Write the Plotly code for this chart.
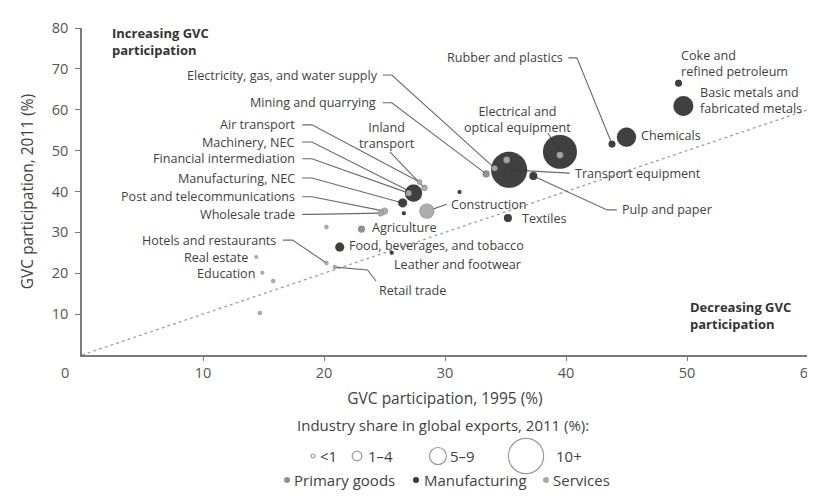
import plotly.graph_objects as go

# ---------------- data ----------------
industries = [
    "Coke and refined petroleum", "Basic metals and fabricated metals", "Chemicals",
    "Rubber and plastics", "Electrical and optical equipment", "Transport equipment",
    "Pulp and paper", "Electricity, gas, and water supply", "Mining and quarrying",
    "Water transport", "Renting of machinery", "Machinery, NEC", "Inland transport",
    "Air transport", "Financial intermediation", "Manufacturing, NEC", "Wood products",
    "Post and telecommunications", "Wholesale trade", "Construction", "Other nonmetallic minerals",
    "Textiles", "Agriculture", "Food, beverages, and tobacco", "Leather and footwear",
    "Other supporting transport", "Hotels and restaurants", "Retail trade", "Real estate",
    "Education", "Health", "Public administration",
]
gvc_1995 = [49.3, 49.7, 45.0, 43.8, 39.5, 35.3, 37.3, 34.1, 33.4, 35.1, 39.5, 27.4, 28.3,
            27.9, 27.0, 26.5, 26.6, 25.0, 24.7, 28.5, 31.2, 35.2, 23.1, 21.3, 25.6, 20.2,
            20.2, 20.9, 14.4, 14.9, 15.8, 14.7]
gvc_2011 = [66.5, 60.9, 53.3, 51.6, 49.7, 45.3, 43.8, 45.7, 44.3, 47.7, 48.9, 39.6, 40.9,
            42.3, 39.6, 37.2, 34.7, 35.2, 34.7, 35.2, 39.9, 33.5, 30.8, 26.4, 25.0, 31.3,
            22.5, 21.5, 24.0, 20.1, 18.1, 10.3]
export_share = [1.5, 6.5, 6.2, 1.5, 11.9, 12.7, 1.9, 1.2, 1.5, 1.5, 1.5, 5.4, 1.2,
                0.8, 1.2, 2.3, 0.4, 1.5, 1.2, 4.6, 0.4, 1.9, 1.5, 2.3, 0.4, 0.4,
                0.4, 0.4, 0.2, 0.2, 0.4, 0.4]
group = ["Manufacturing", "Manufacturing", "Manufacturing", "Manufacturing", "Manufacturing",
         "Manufacturing", "Manufacturing", "Services", "Primary goods", "Services", "Services",
         "Manufacturing", "Services", "Services", "Services", "Manufacturing", "Manufacturing",
         "Services", "Services", "Services", "Manufacturing", "Manufacturing", "Primary goods",
         "Manufacturing", "Manufacturing", "Services", "Services", "Services", "Services",
         "Services", "Services", "Services"]

groups = ["Primary goods", "Manufacturing", "Services"]
size_classes = ["<1", "1–4", "5–9", "10+"]
size_class_share = [0.4, 2.6, 5.4, 12.4]

# label layout: industry -> (text, label x, label y, xanchor, leader waypoints from label side)
label_layout = [
    ("Electricity, gas, and water supply", "Electricity, gas, and water supply", 24.6, 68.5, "right", [(24.85, 68.5), (25.6, 68.5)]),
    ("Mining and quarrying", "Mining and quarrying", 24.5, 61.7, "right", [(24.85, 61.7), (25.6, 61.7)]),
    ("Air transport", "Air transport", 17.8, 56.3, "right", [(18.2, 56.3), (19.0, 56.3)]),
    ("Machinery, NEC", "Machinery, NEC", 17.8, 52.1, "right", [(18.2, 52.1), (19.0, 52.1)]),
    ("Financial intermediation", "Financial intermediation", 17.8, 48.0, "right", [(18.2, 48.0), (19.0, 48.0)]),
    ("Manufacturing, NEC", "Manufacturing, NEC", 17.8, 43.3, "right", [(18.2, 43.3), (19.0, 43.3)]),
    ("Post and telecommunications", "Post and telecommunications", 17.8, 38.7, "right", [(18.2, 38.7), (19.0, 38.7)]),
    ("Wholesale trade", "Wholesale trade", 17.8, 34.4, "right", [(18.2, 34.4), (19.0, 34.4)]),
    ("Inland transport", "Inland<br>transport", 25.2, 53.7, "center", [(25.45, 49.7)]),
    ("Agriculture", "Agriculture", 23.8, 31.3, "left", []),
    ("Food, beverages, and tobacco", "Food, beverages, and tobacco", 21.9, 26.9, "left", []),
    ("Leather and footwear", "Leather and footwear", 25.6, 22.1, "left", []),
    ("Construction", "Construction", 30.3, 36.9, "left", [(30.15, 36.9)]),
    ("Textiles", "Textiles", 36.2, 33.5, "left", []),
    ("Hotels and restaurants", "Hotels and restaurants", 16.2, 28.1, "right", [(16.6, 28.1), (17.4, 28.1)]),
    ("Real estate", "Real estate", 13.9, 23.9, "right", []),
    ("Education", "Education", 14.5, 19.9, "right", []),
    ("Retail trade", "Retail trade", 24.4, 15.9, "left", [(24.3, 18.1), (23.6, 20.8)]),
    ("Rubber and plastics", "Rubber and plastics", 39.9, 72.7, "right", [(40.2, 72.7), (40.9, 72.7)]),
    ("Electrical and optical equipment", "Electrical and<br>optical equipment", 35.95, 57.7, "center", [(38.5, 54.3)]),
    ("Transport equipment", "Transport equipment", 40.6, 44.5, "left", [(40.3, 44.5)]),
    ("Pulp and paper", "Pulp and paper", 44.5, 35.5, "left", [(44.2, 35.5), (43.4, 35.5)]),
    ("Chemicals", "Chemicals", 46.0, 53.6, "left", []),
    ("Coke and refined petroleum", "Coke and<br>refined petroleum", 49.3, 71.2, "left", []),
    ("Basic metals and fabricated metals", "Basic metals and<br>fabricated metals", 50.9, 62.3, "left", []),
]

# ---------------- styles ----------------
FONT = "Open Sans"
LSIZE = 12.6
TICKSIZE = 14.5
TITLESIZE = 15.5
LEGSIZE = 15
TXT = "#3f3f3f"
AX = "#7a7a7a"
colors = {"Primary goods": "#8e8e8e", "Manufacturing": "#363636", "Services": "#a9a9a9"}

# the page body adds an 8px offset; target positions below are in reference pixels
OFF = 8
W, H = 815, 500
PL, PR, PT, PB = 82, 808, 28, 355   # plot-area edges in reference pixels
BM = 5


def diam(share):
    return 3 + 2.6 * share


fig = go.Figure()

# reference diagonal
fig.add_shape(type="line", xref="x", yref="y", x0=0, y0=0, x1=60, y1=60,
              line=dict(color="#a0a0a0", width=1.3, dash="dot"), layer="below")

# points by group
order = ["Manufacturing", "Primary goods", "Services"]
for g in order:
    idx = [i for i, gg in enumerate(group) if gg == g]
    fig.add_trace(go.Scatter(
        x=[gvc_1995[i] for i in idx], y=[gvc_2011[i] for i in idx],
        mode="markers", name=g, text=[industries[i] for i in idx],
        marker=dict(size=[diam(export_share[i]) for i in idx], color=colors[g],
                    line=dict(color="rgba(0,0,0,0.25)", width=0.6), opacity=0.95),
        hovertemplate="%{text}<br>1995: %{x}%<br>2011: %{y}%<extra></extra>",
        showlegend=False, xaxis="x", yaxis="y"))

# labels + leaders
for name, text, lx, ly, xa, way in label_layout:
    i = industries.index(name)
    fig.add_annotation(x=lx, y=ly, xref="x", yref="y", text=text, showarrow=False,
                       xanchor=xa, yanchor="middle", align="center" if xa == "center" else xa,
                       font=dict(family=FONT, size=LSIZE, color=TXT))
    if way:
        pts = way + [(gvc_1995[i], gvc_2011[i])]
        path = "M " + " L ".join(f"{px},{py}" for px, py in pts)
        fig.add_shape(type="path", xref="x", yref="y", path=path,
                      line=dict(color="#6a6a6a", width=1.1), layer="below")

fig.add_annotation(x=2.3, y=76.7, xref="x", yref="y", text="<b>Increasing GVC<br>participation</b>",
                   showarrow=False, xanchor="left", yanchor="middle", align="left",
                   font=dict(family=FONT, size=13, color="#333"))
fig.add_annotation(x=50.1, y=9.7, xref="x", yref="y", text="<b>Decreasing GVC<br>participation</b>",
                   showarrow=False, xanchor="left", yanchor="middle", align="left",
                   font=dict(family=FONT, size=13, color="#333"))

# ---------------- custom legend (overlay axis in reference-pixel units) ----------------
leg_size_x = [313, 357, 438, 526]
leg_size_tx = [318, 366, 448, 554]
fig.add_trace(go.Scatter(
    x=leg_size_x, y=[456] * 4, mode="markers", xaxis="x2", yaxis="y2", showlegend=False,
    hoverinfo="skip",
    marker=dict(size=[diam(s) for s in size_class_share], color="white",
                line=dict(color="#707070", width=1.2))))
for lbl, tx in zip(size_classes, leg_size_tx):
    fig.add_annotation(x=tx, y=456, xref="x2", yref="y2", text=lbl, showarrow=False,
                       xanchor="left", yanchor="middle", font=dict(family=FONT, size=LEGSIZE, color=TXT))

leg_grp_x = [287, 416, 546]
leg_grp_tx = [292, 422, 551]
fig.add_trace(go.Scatter(
    x=leg_grp_x, y=[480] * 3, mode="markers", xaxis="x2", yaxis="y2", showlegend=False,
    hoverinfo="skip", marker=dict(size=6, color=[colors[g] for g in groups])))
for g, tx in zip(groups, leg_grp_tx):
    fig.add_annotation(x=tx, y=480, xref="x2", yref="y2", text=g, showarrow=False,
                       xanchor="left", yanchor="middle", font=dict(family=FONT, size=LEGSIZE, color=TXT))

fig.add_annotation(x=443, y=425, xref="x2", yref="y2",
                   text="Industry share in global exports, 2011 (%):", showarrow=False,
                   xanchor="center", yanchor="middle", font=dict(family=FONT, size=LEGSIZE, color=TXT))

# ---------------- layout ----------------
l_m = PL - OFF
r_m = W + OFF - PR
t_m = PT - OFF
plot_h = H - t_m - BM
bottom_ref = H - BM + OFF          # reference pixel of the figure's lower plotting edge
y_bottom_frac = (bottom_ref - PB) / plot_h

fig.update_layout(
    width=W, height=H,
    margin=dict(l=l_m, r=r_m, t=t_m, b=BM),
    paper_bgcolor="white", plot_bgcolor="rgba(0,0,0,0)",
    font=dict(family=FONT, color=TXT),
    showlegend=False,
    xaxis=dict(range=[0, 60], domain=[0, 1], anchor="y", tickvals=[10, 20, 30, 40, 50, 60],
               showgrid=False, zeroline=False, showline=True, linecolor=AX, linewidth=1.6,
               ticks="outside", ticklen=4, tickcolor=AX, tickwidth=1.4,
               ticklabeloverflow="allow",
               tickfont=dict(family=FONT, size=TICKSIZE, color="#555"),
               title=dict(text="GVC participation, 1995 (%)", standoff=12,
                          font=dict(family=FONT, size=TITLESIZE, color=TXT)),
               automargin=False),
    yaxis=dict(range=[0, 80], domain=[y_bottom_frac, 1], anchor="x",
               tickvals=[10, 20, 30, 40, 50, 60, 70, 80],
               showgrid=False, zeroline=False, showline=True, linecolor=AX, linewidth=1.6,
               ticks="outside", ticklen=5, tickcolor=AX, tickwidth=1.4,
               ticklabeloverflow="allow", ticklabelstandoff=4,
               tickfont=dict(family=FONT, size=TICKSIZE, color="#555"),
               title=dict(text="GVC participation, 2011 (%)", standoff=14,
                          font=dict(family=FONT, size=TITLESIZE, color=TXT)),
               automargin=False),
    xaxis2=dict(range=[PL, PR], domain=[0, 1], anchor="y2", visible=False, fixedrange=True),
    yaxis2=dict(range=[bottom_ref, PB], domain=[0, y_bottom_frac], anchor="x2", visible=False,
                fixedrange=True),
)
# the shared "0" origin label, placed left of and below the origin as in the reference
fig.add_annotation(x=0, y=0, xref="x", yref="y", text="0", showarrow=False, xshift=-17, yshift=-17,
                   font=dict(family=FONT, size=TICKSIZE, color="#555"))

fig.write_html("out.html")
